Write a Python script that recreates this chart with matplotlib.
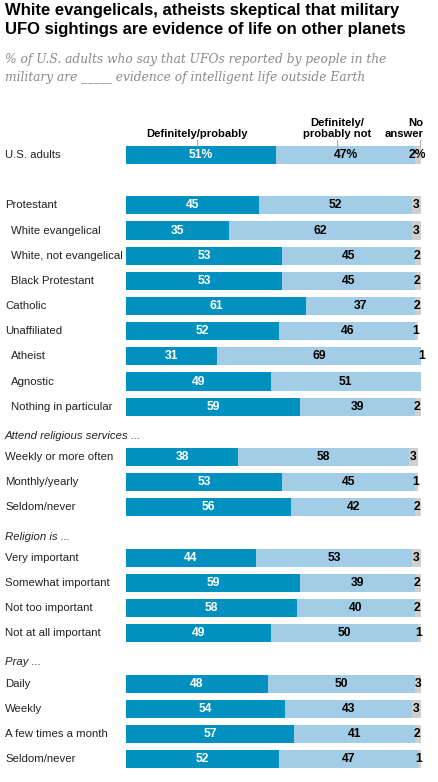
import matplotlib
matplotlib.use("Agg")
import matplotlib.pyplot as plt
import matplotlib.transforms as mtransforms

categories = ["U.S. adults", "Protestant", "White evangelical", "White, not evangelical",
              "Black Protestant", "Catholic", "Unaffiliated", "Atheist", "Agnostic",
              "Nothing in particular",
              "Weekly or more often", "Monthly/yearly", "Seldom/never",
              "Very important", "Somewhat important", "Not too important", "Not at all important",
              "Daily", "Weekly", "A few times a month", "Seldom/never"]
definitely = [51, 45, 35, 53, 53, 61, 52, 31, 49, 59, 38, 53, 56, 44, 59, 58, 49, 48, 54, 57, 52]
def_not = [47, 52, 62, 45, 45, 37, 46, 69, 51, 39, 58, 45, 42, 53, 39, 40, 50, 50, 43, 41, 47]
no_answer = [2, 3, 3, 2, 2, 2, 1, 1, 0, 2, 3, 1, 2, 3, 2, 2, 1, 3, 3, 2, 1]
indented = [False, False, True, True, True, False, False, True, True, True,
            False, False, False, False, False, False, False, False, False, False, False]
slots = [0, 2, 3, 4, 5, 6, 7, 8, 9, 10, 12, 13, 14, 16, 17, 18, 19, 21, 22, 23, 24]
group_headers = ["Attend religious services ...", "Religion is ...", "Pray ..."]
header_slots = [11.15, 15.18, 20.15]
legend_labels = ["Definitely/probably", "Definitely/\nprobably not", "No\nanswer"]

DARK = "#0091c0"
LIGHT = "#a3cde6"
GRAY = "#cfcfcf"

W, H = 439, 782
fig = plt.figure(figsize=(W / 100, H / 100), dpi=100)

# pixel geometry
x0_px, x100_px = 126, 421
y_first, step = 155, 25.17
ylo, yhi = -0.5, 24.55
top_px = y_first + ylo * step
bot_px = y_first + yhi * step
ax = fig.add_axes([x0_px / W, 1 - bot_px / H, (x100_px - x0_px) / W, (bot_px - top_px) / H])
ax.set_xlim(0, 100)
ax.set_ylim(yhi, ylo)
ax.axis("off")

bh = 0.72
sans = "Liberation Sans"
ax.barh(slots, definitely, height=bh, color=DARK, edgecolor="none")
left2 = definitely
ax.barh(slots, def_not, left=left2, height=bh, color=LIGHT, edgecolor="none")
left3 = [a + b for a, b in zip(definitely, def_not)]
ax.barh(slots, no_answer, left=left3, height=bh, color=GRAY, edgecolor="none")

vfs = 8.7
for i, s in enumerate(slots):
    suf = "%" if i == 0 else ""
    ax.text(definitely[i] / 2, s, f"{definitely[i]}{suf}", ha="center", va="center",
            color="white", fontsize=vfs, fontweight="bold", family=sans)
    ax.text(definitely[i] + def_not[i] / 2, s, f"{def_not[i]}{suf}", ha="center", va="center",
            color="black", fontsize=vfs, fontweight="bold", family=sans)
    if no_answer[i] > 0:
        ax.text(left3[i] + no_answer[i] / 2 - 0.3, s, f"{no_answer[i]}{suf}", ha="center", va="center",
                color="black", fontsize=vfs, fontweight="bold", family=sans)

tr = mtransforms.blended_transform_factory(fig.transFigure, ax.transData)
for i, s in enumerate(slots):
    xp = 11 if indented[i] else 5
    ax.text(xp / W, s, categories[i], transform=tr, ha="left", va="center",
            fontsize=8.2, family=sans, color="#222222")
for h, s in zip(group_headers, header_slots):
    ax.text(5 / W, s, h, transform=tr, ha="left", va="center",
            fontsize=8.2, family=sans, style="italic", color="#222222")

# column headers
text_x = [24, 71.5, 100.8]
text_ha = ["center", "center", "right"]
tick_x = [24, 71.5, 99.7]
for lab, x, ha, tx in zip(legend_labels, text_x, text_ha, tick_x):
    ax.text(x, -0.64, lab, ha=ha, va="bottom", fontsize=8.1, fontweight="bold",
            family=sans, color="black", linespacing=1.15, multialignment=ha)
    ax.plot([tx, tx], [-0.6, -0.36], color="#999999", lw=0.6, clip_on=False)

fig.text(5 / W, 1 - 3 / H, "White evangelicals, atheists skeptical that military\nUFO sightings are evidence of life on other planets",
         ha="left", va="top", fontsize=12, fontweight="bold", family=sans, linespacing=1.3)
fig.text(5 / W, 1 - 53 / H, "% of U.S. adults who say that UFOs reported by people in the\nmilitary are _____ evidence of intelligent life outside Earth",
         ha="left", va="top", fontsize=8.8, style="italic", family="DejaVu Serif", color="#8a8a8a",
         linespacing=1.5)

fig.savefig("out.png", dpi=100)
